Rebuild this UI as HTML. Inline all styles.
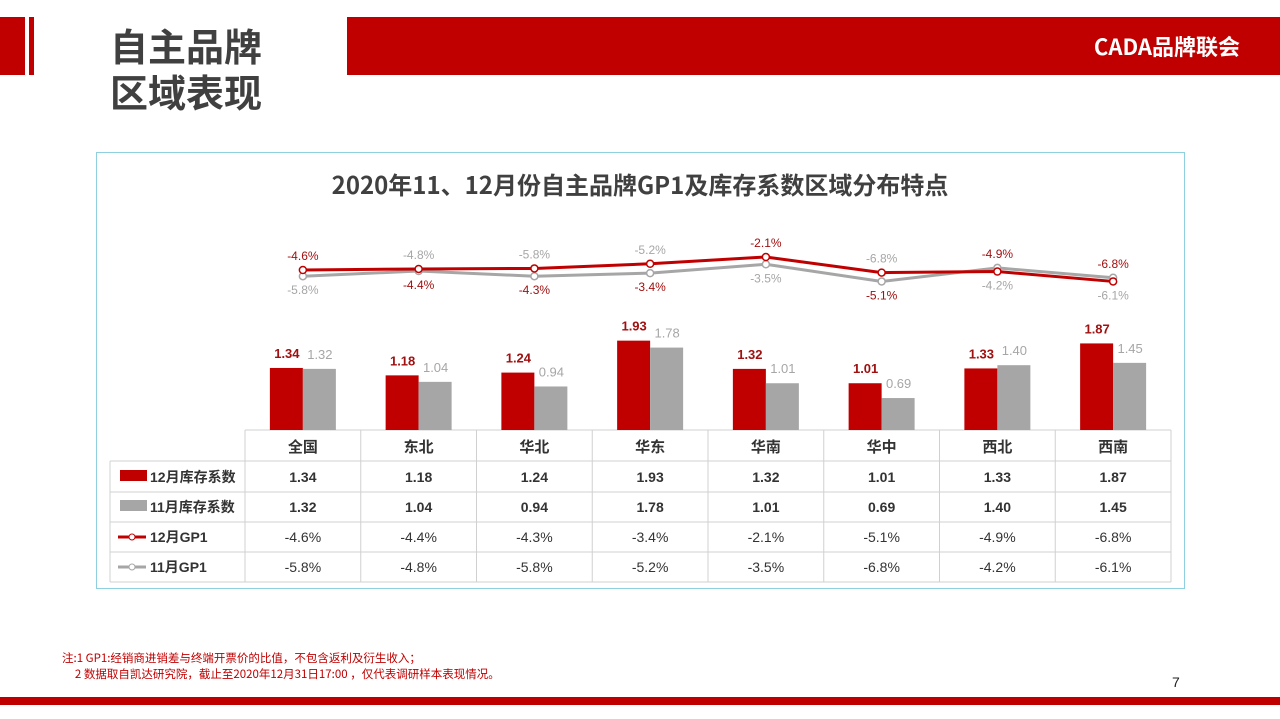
<!DOCTYPE html>
<html><head><meta charset="utf-8"><style>
body{margin:0;width:1280px;height:719px;background:#fff;position:relative;overflow:hidden;font-family:"Liberation Sans","Noto Sans CJK SC",sans-serif;}
.a{position:absolute}
</style></head><body>
<div class="a" style="left:0;top:17px;width:25px;height:58px;background:#c00000"></div>
<div class="a" style="left:29px;top:17px;width:5px;height:58px;background:#c00000"></div>
<div class="a" style="left:347px;top:17px;width:933px;height:58px;background:#c00000"></div>
<div class="a" style="left:1040px;top:30px;width:200px;color:#fff;font-size:22px;font-weight:bold;text-align:right;font-family:'Noto Sans CJK SC',sans-serif">CADA品牌联会</div>
<div class="a" style="left:110px;top:22px;font-size:38px;line-height:46px;font-weight:bold;color:#404040;font-family:'Noto Sans CJK SC',sans-serif">自主品牌<br>区域表现</div>
<div class="a" style="left:96px;top:152px;width:1087px;height:435px;border:1px solid #8fd0e0"></div>
<div class="a" style="left:96px;top:166px;width:1088px;text-align:center;font-size:24px;font-weight:bold;color:#404040;font-family:'Noto Sans CJK SC',sans-serif">2020年11、12月份自主品牌GP1及库存系数区域分布特点</div>
<svg class="a" style="left:0;top:0" width="1280" height="719" font-family="Liberation Sans,Noto Sans CJK SC,sans-serif">
<g id="g"></g>
</svg>
<div class="a" style="left:62px;top:650px;font-size:11.5px;color:#c00000;line-height:16px;font-family:'Noto Sans CJK SC',sans-serif">注:1 GP1:经销商进销差与终端开票价的比值，不包含返利及衍生收入；<br>&nbsp;&nbsp;&nbsp;&nbsp;&nbsp;2 数据取自凯达研究院，截止至2020年12月31日17:00 ，仅代表调研样本表现情况。</div>
<div class="a" style="left:0;top:697px;width:1280px;height:8px;background:#c00000"></div>
<div class="a" style="left:1172px;top:674px;font-size:14px;color:#222">7</div>
<script>
var regions=["全国","东北","华北","华东","华南","华中","西北","西南"];
var b12=[1.34,1.18,1.24,1.93,1.32,1.01,1.33,1.87];
var b11=[1.32,1.04,0.94,1.78,1.01,0.69,1.40,1.45];
var g12=[-4.6,-4.4,-4.3,-3.4,-2.1,-5.1,-4.9,-6.8];
var g11=[-5.8,-4.8,-5.8,-5.2,-3.5,-6.8,-4.2,-6.1];
var s="";var W=115.75,X0=245,base=430;
function y(v){return 270+(-4.6-v)*5.2;}
// grid
var rows=[430,461,492,522,552,582];
for(var r=0;r<rows.length;r++){var x1=r==0?X0:110;s+='<line x1="'+x1+'" x2="1171" y1="'+rows[r]+'" y2="'+rows[r]+'" stroke="#d0d0d0"/>';}
for(var c=0;c<=8;c++){var xx=X0+c*W;s+='<line x1="'+xx+'" x2="'+xx+'" y1="430" y2="582" stroke="#d0d0d0"/>';}
s+='<line x1="110" x2="110" y1="461" y2="582" stroke="#d0d0d0"/>';
for(var i=0;i<8;i++){var cx=X0+W*i+W/2;
var h1=b12[i]*46.3,h2=b11[i]*46.3;
s+='<rect x="'+(cx-33)+'" y="'+(base-h1)+'" width="33" height="'+h1+'" fill="#c00000"/>';
s+='<rect x="'+cx+'" y="'+(base-h2)+'" width="33" height="'+h2+'" fill="#a6a6a6"/>';
s+='<text x="'+(cx-16)+'" y="'+(base-h1-10)+'" text-anchor="middle" font-size="13" font-weight="bold" fill="#a01010">'+b12[i].toFixed(2)+'</text>';
s+='<text x="'+(cx+17)+'" y="'+(base-h2-10)+'" text-anchor="middle" font-size="13" fill="#a6a6a6">'+b11[i].toFixed(2)+'</text>';
s+='<text x="'+cx+'" y="452" text-anchor="middle" font-size="15" font-weight="bold" fill="#333">'+regions[i]+'</text>';
s+='<text x="'+cx+'" y="482" text-anchor="middle" font-size="14" font-weight="bold" fill="#333">'+b12[i].toFixed(2)+'</text>';
s+='<text x="'+cx+'" y="512" text-anchor="middle" font-size="14" font-weight="bold" fill="#333">'+b11[i].toFixed(2)+'</text>';
s+='<text x="'+cx+'" y="542" text-anchor="middle" font-size="14" fill="#333">'+g12[i].toFixed(1)+'%</text>';
s+='<text x="'+cx+'" y="572" text-anchor="middle" font-size="14" fill="#333">'+g11[i].toFixed(1)+'%</text>';
}
function line(d,col){var p="";for(var i=0;i<8;i++){p+=(X0+W*i+W/2)+","+y(d[i])+" ";}
var o='<polyline points="'+p+'" fill="none" stroke="'+col+'" stroke-width="3"/>';
for(var i=0;i<8;i++)o+='<circle cx="'+(X0+W*i+W/2)+'" cy="'+y(d[i])+'" r="3.5" fill="#fff" stroke="'+col+'" stroke-width="1.5"/>';return o;}
s+=line(g11,"#a6a6a6")+line(g12,"#c00000");
var redUp=[1,0,0,0,1,0,1,1];
for(var i=0;i<8;i++){var cx=X0+W*i+W/2;
var ry=y(g12[i]),gy=y(g11[i]);
var ru=redUp[i];
s+='<text x="'+cx+'" y="'+(ru?Math.min(ry,gy)-10:Math.max(ry,gy)+18)+'" text-anchor="middle" font-size="12" fill="#a01010">'+g12[i].toFixed(1)+'%</text>';
s+='<text x="'+cx+'" y="'+(ru?Math.max(ry,gy)+18:Math.min(ry,gy)-10)+'" text-anchor="middle" font-size="12" fill="#a6a6a6">'+g11[i].toFixed(1)+'%</text>';
}
// legend
s+='<rect x="120" y="470" width="27" height="11" fill="#c00000"/><text x="150" y="482" font-size="14" font-weight="bold" fill="#333">12月库存系数</text>';
s+='<rect x="120" y="500" width="27" height="11" fill="#a6a6a6"/><text x="150" y="512" font-size="14" font-weight="bold" fill="#333">11月库存系数</text>';
s+='<line x1="118" x2="146" y1="537" y2="537" stroke="#c00000" stroke-width="3"/><circle cx="132" cy="537" r="3" fill="#fff" stroke="#c00000"/><text x="150" y="542" font-size="14" font-weight="bold" fill="#333">12月GP1</text>';
s+='<line x1="118" x2="146" y1="567" y2="567" stroke="#a6a6a6" stroke-width="3"/><circle cx="132" cy="567" r="3" fill="#fff" stroke="#a6a6a6"/><text x="150" y="572" font-size="14" font-weight="bold" fill="#333">11月GP1</text>';
document.getElementById("g").innerHTML=s;
</script>
</body></html>
